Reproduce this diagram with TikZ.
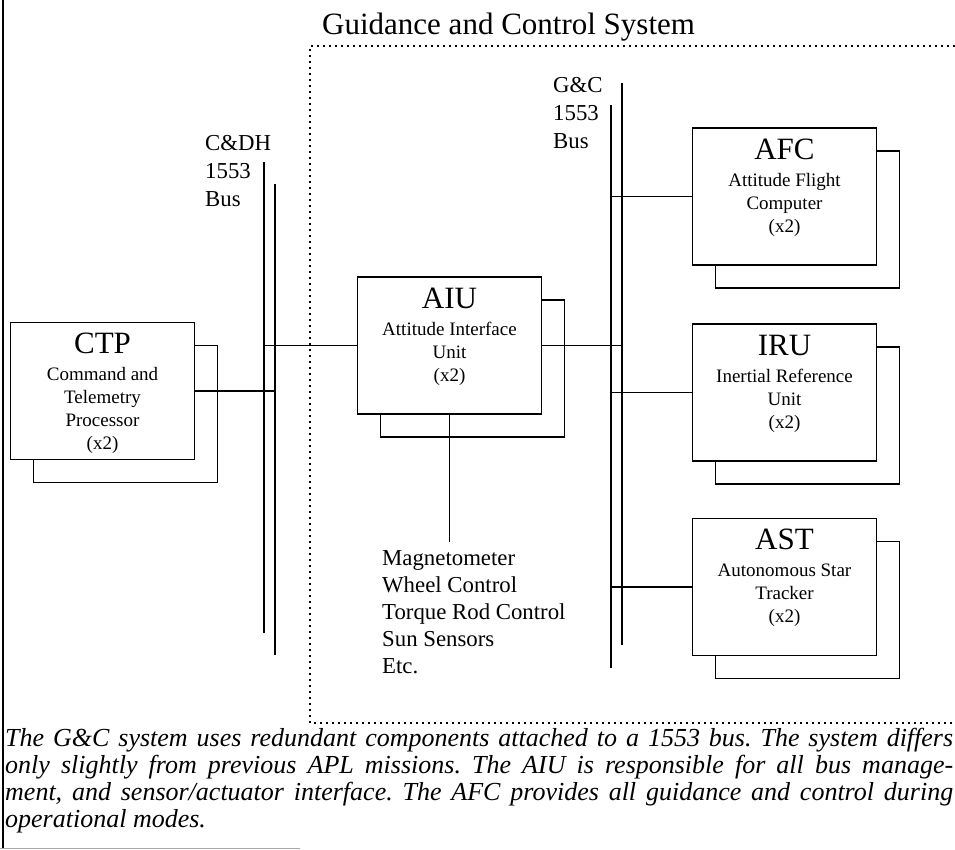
\documentclass[tikz,border=0pt]{standalone}
\usepackage{fontspec}
\setmainfont{Liberation Serif}
\usetikzlibrary{positioning}
\frenchspacing

\newcommand\namefont{\fontsize{31}{32}\selectfont}
\newcommand\descfont{\fontsize{19}{23}\selectfont}
\newcommand\busfont{\fontsize{22.8}{28}\selectfont}
\newcommand\notefont{\fontsize{26}{27}\selectfont\itshape}

\begin{document}
\begin{tikzpicture}[x=1pt, y=-1pt,
  modback/.style={draw, line width=1.4pt, fill=white, minimum width=184pt, minimum height=137pt, inner sep=0pt},
  modbox/.style={modback},
  modname/.style={font=\namefont, inner sep=0pt},
  moddesc/.style={font=\descfont, align=center, inner sep=0pt},
  buslbl/.style={font=\busfont, align=left, anchor=north west, inner sep=0pt},
  bus/.style={line width=1.8pt},
  link/.style={line width=1.4pt},
  gnc/.style={line width=1.9pt, dash pattern=on 1.9pt off 4.1pt}]
  \useasboundingbox (0,0) rectangle (955,850);
  % 左边框
  \draw[line width=1.8pt] (3,0) -- (3,848);
  \draw[black!35, line width=1pt] (0,848) -- (300,848);
  % 制导与控制子系统（虚线框）
  \node[modname, anchor=base west] (title) at (322,35) {Guidance and Control System};
  \draw[gnc] (955,46) -- (310,46) -- (310,723) -- (955,723);
  % 两条 1553 总线（双线）
  \foreach \n/\x/\a/\b in {cdhA/264/162/633, cdhB/275/184/655, gcA/611/105/668, gcB/622/83/645}{
    \coordinate (\n) at (\x,\a);
    \draw[bus] (\n) -- (\x,\b);
  }
  \node[buslbl] (cdhlbl) at (205,135) {C\&DH\\1553\\Bus};
  \node[buslbl] (gclbl) at (553,77) {G\&C\\1553\\Bus};
  % 冗余单元（后面一层）
  \foreach \n/\x/\y in {ctp/102.5/391, aiu/449.5/345.5, afc/784.5/196.5, iru/784.5/392.5, ast/784.5/587}{
    \node[modback] (back\n) at (\x+23,\y+23) {};
  }
  % CTP
  \node[modbox] (ctp) at (102.5,391) {};
  \node[modname, below=11.3pt of ctp.north] (namectp) {CTP};
  \node[moddesc, below=45.5pt of ctp.north] (descctp) {Command and\\Telemetry\\Processor\\(x2)};
  % AIU
  \node[modbox] (aiu) at (449.5,345.5) {};
  \node[modname, below=11.3pt of aiu.north] (nameaiu) {AIU};
  \node[moddesc, below=45.5pt of aiu.north] (descaiu) {Attitude Interface\\Unit\\(x2)};
  % 右侧三个单元
  \foreach \n/\y/\t/\d in {afc/196.5/AFC/{Attitude Flight\\Computer\\(x2)},
                           iru/392.5/IRU/{Inertial Reference\\Unit\\(x2)},
                           ast/587/AST/{Autonomous Star\\Tracker\\(x2)}}{
    \node[modbox] (\n) at (784.5,\y) {};
    \node[modname, below=11.3pt of \n.north] (name\n) {\t};
    \node[moddesc, below=45.5pt of \n.north] (desc\n) {\d};
    \draw[link] (\n.west) -- (\n.west -| gcA);
  }
  % 总线连线
  \draw[link] (ctp.east) -- (ctp.east -| cdhB);
  \draw[link] (aiu.west) -- (aiu.west -| cdhA);
  \draw[link] (aiu.east) -- (aiu.east -| gcB);
  % AIU 下挂的敏感器/执行机构
  \node[buslbl, font=\fontsize{22.8}{27}\selectfont] (sens) at (382,550)
    {Magnetometer\\Wheel Control\\Torque Rod Control\\Sun Sensors\\Etc.};
  \coordinate (sensin) at (449.5,542);
  \draw[link] (aiu.south) -- (sensin);
  % 说明文字
  \node[font=\notefont, align=left, anchor=north west, inner sep=0pt] (note) at (5,728)
    {\makebox[948pt][s]{The G\&C system uses redundant components attached to a 1553 bus. The system differs}\\
     \makebox[948pt][s]{only slightly from previous APL missions. The AIU is responsible for all bus manage-}\\
     \makebox[948pt][s]{ment, and sensor/actuator interface. The AFC provides all guidance and control during}\\
     operational modes.};
\end{tikzpicture}
\end{document}
